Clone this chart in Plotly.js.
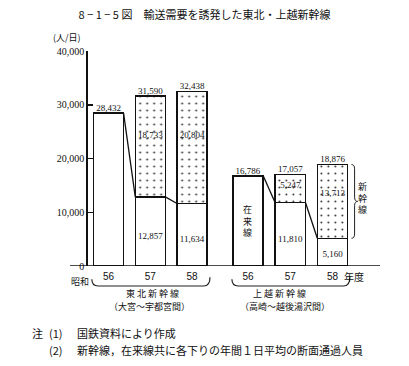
<!DOCTYPE html>
<html><head><meta charset="utf-8">
<script src="https://cdn.plot.ly/plotly-3.0.1.min.js"></script>
<style>body{margin:0;background:#fff}</style>
</head><body><div id="chart" style="width:409px;height:366px"></div>
<script>
// ---- data ----
var years = ['56', '57', '58'];
var tohokuZairai = [28432, 12857, 11634];
var tohokuShinkansen = [null, 18733, 20804];
var tohokuTotal = [28432, 31590, 32438];
var joetsuZairai = [16786, 11810, 5160];
var joetsuShinkansen = [null, 5247, 13713];
var joetsuTotal = [16786, 17057, 18876];
var yTicks = [0, 10000, 20000, 30000, 40000];
var yTickLabels = ['0', '10,000', '20,000', '30,000', '40,000'];

// ---- styling ----
var W = 0.72; // bar width in category units
var YMAX = 40000;
var CJK = '"Noto Sans CJK JP", sans-serif';
var SERIF = '"Liberation Serif", serif';
var idx = years.map(function (_, i) { return i; });
function fmt(v) { return v == null ? '' : v.toLocaleString('en-US'); }

function groupTraces(zairai, shin, total, xa) {
  var lineX = [], lineY = [];
  for (var i = 0; i < zairai.length - 1; i++) {
    lineX.push(i + W / 2, i + 1 - W / 2, null);
    lineY.push(zairai[i], zairai[i + 1], null);
  }
  // inside labels (only where a shinkansen segment exists)
  var lx = [], ly = [], lt = [];
  for (var j = 0; j < zairai.length; j++) {
    if (shin[j] == null) continue;
    lx.push(j, j);
    ly.push(zairai[j] * 0.42, zairai[j] + shin[j] * 0.61);
    lt.push(fmt(zairai[j]), fmt(shin[j]));
  }
  return [
    {type: 'bar', x: idx, y: zairai, xaxis: xa, yaxis: 'y', width: W,
     marker: {color: '#fff', line: {color: '#111', width: 1.5}}, hoverinfo: 'skip'},
    {type: 'bar', x: idx, y: shin, xaxis: xa, yaxis: 'y', width: W,
     marker: {color: '#fff', line: {color: '#111', width: 1.5},
              pattern: {shape: '.', fgcolor: '#333', bgcolor: '#fff', size: 7, solidity: 0.06}},
     hoverinfo: 'skip'},
    {type: 'scatter', mode: 'lines', x: lineX, y: lineY, xaxis: xa, yaxis: 'y',
     line: {color: '#111', width: 1.3}, hoverinfo: 'skip'},
    {type: 'scatter', mode: 'text', x: lx, y: ly, xaxis: xa, yaxis: 'y',
     text: lt, textposition: 'middle center',
     textfont: {family: SERIF, size: 9, color: '#111'}, hoverinfo: 'skip'},
    {type: 'scatter', mode: 'text', x: idx, y: total, xaxis: xa, yaxis: 'y',
     text: total.map(fmt), textposition: 'top center',
     textfont: {family: SERIF, size: 9, color: '#111'}, hoverinfo: 'skip'}
  ];
}

var traces = groupTraces(tohokuZairai, tohokuShinkansen, tohokuTotal, 'x')
  .concat(groupTraces(joetsuZairai, joetsuShinkansen, joetsuTotal, 'x2'));

function xaxisDef(domain) {
  return {domain: domain, range: [-0.5, 2.5], tickvals: idx, ticktext: years,
    showline: false, zeroline: false, showgrid: false, ticks: '', ticklabelstandoff: 3,
    tickfont: {family: '"Liberation Sans", sans-serif', size: 10, color: '#111'}, fixedrange: true};
}

// braces
function bottomBrace(xa, left, right) {
  var yTop = -0.062, yBot = -0.093;
  return {type: 'path', xref: xa, yref: 'paper',
    path: 'M' + left + ',' + yTop + ' Q' + left + ',' + yBot + ' ' + (left + 0.15) + ',' + yBot +
          ' L' + (right - 0.15) + ',' + yBot + ' Q' + right + ',' + yBot + ' ' + right + ',' + (yTop + 0.01),
    line: {color: '#222', width: 1.2}};
}
var jLast = joetsuZairai.length - 1;
// side brace in paper coordinates (y converted from data values)
var bTop = joetsuTotal[jLast] / YMAX, bBot = joetsuZairai[jLast] / YMAX, bMid = (bTop + bBot) / 2;
var bx0 = 0.908, bx1 = 0.918, bx2 = 0.928, r = 0.02;
var sideBrace = {type: 'path', xref: 'paper', yref: 'paper',
  path: 'M' + bx0 + ',' + bTop + ' Q' + bx1 + ',' + bTop + ' ' + bx1 + ',' + (bTop - r) +
        ' L' + bx1 + ',' + (bMid + r) + ' Q' + bx1 + ',' + bMid + ' ' + bx2 + ',' + bMid +
        ' Q' + bx1 + ',' + bMid + ' ' + bx1 + ',' + (bMid - r) +
        ' L' + bx1 + ',' + (bBot + r) + ' Q' + bx1 + ',' + bBot + ' ' + bx0 + ',' + bBot,
  line: {color: '#222', width: 1}};

function ann(text, x, y, size, opts) {
  var a = {text: text, x: x, y: y, xref: 'paper', yref: 'paper', showarrow: false,
    font: {family: CJK, size: size, color: '#111'}, xanchor: 'center', yanchor: 'middle'};
  for (var k in (opts || {})) a[k] = opts[k];
  return a;
}

var layout = {
  width: 409, height: 366,
  margin: {l: 70, r: 29, t: 51, b: 100},
  paper_bgcolor: '#fff', plot_bgcolor: '#fff',
  showlegend: false, barmode: 'stack',
  title: {text: '8 − 1 − 5 図　輸送需要を誘発した東北・上越新幹線',
    font: {family: CJK, size: 11, color: '#111'},
    xref: 'container', x: 0.5, xanchor: 'center', yref: 'container', y: 0.958, yanchor: 'middle'},
  xaxis: xaxisDef([0.057, 0.461]),
  xaxis2: xaxisDef([0.506, 0.915]),
  yaxis: {range: [0, YMAX], tickvals: yTicks, ticktext: yTickLabels,
    showline: true, linecolor: '#111', linewidth: 1.5, ticks: 'inside', ticklen: 5,
    tickwidth: 1.5, tickcolor: '#111', showgrid: false, zeroline: false,
    tickfont: {family: SERIF, size: 10, color: '#111'}, fixedrange: true},
  shapes: [
    {type: 'line', xref: 'paper', yref: 'y', x0: 0, x1: 1, y0: 0, y1: 0, line: {color: '#111', width: 1.5}},
    bottomBrace('x', -0.4, 2.43),
    bottomBrace('x2', -0.38, 2.41),
    sideBrace
  ],
  annotations: [
    ann('(人/日)', -0.01, 1.065, 9),
    {text: '在<br>来<br>線', x: 0, y: joetsuZairai[0] / 2, xref: 'x2', yref: 'y', showarrow: false,
     font: {family: CJK, size: 9, color: '#111'}},
    ann('新<br>幹<br>線', 0.944, bMid + 0.015, 9),
    ann('昭和', 0.032, -0.072, 9),
    ann('年度', 0.917, -0.05, 10),
    ann('東 北 新 幹 線', 0.265, -0.128, 9),
    ann('（大宮～宇都宮間）', 0.258, -0.19, 9),
    ann('上 越 新 幹 線', 0.677, -0.128, 9),
    ann('（高崎～越後湯沢間）', 0.694, -0.19, 9),
    ann('注', -0.129, -0.312, 11, {xanchor: 'left'}),
    ann('(1)', -0.075, -0.312, 11, {xanchor: 'left'}),
    ann('国鉄資料により作成', 0.016, -0.312, 11, {xanchor: 'left'}),
    ann('(2)', -0.075, -0.391, 11, {xanchor: 'left'}),
    ann('新幹線，在来線共に各下りの年間１日平均の断面通過人員', 0.016, -0.391, 11, {xanchor: 'left'})
  ]
};

Plotly.newPlot('chart', traces, layout, {displayModeBar: false, staticPlot: true});
</script></body></html>
